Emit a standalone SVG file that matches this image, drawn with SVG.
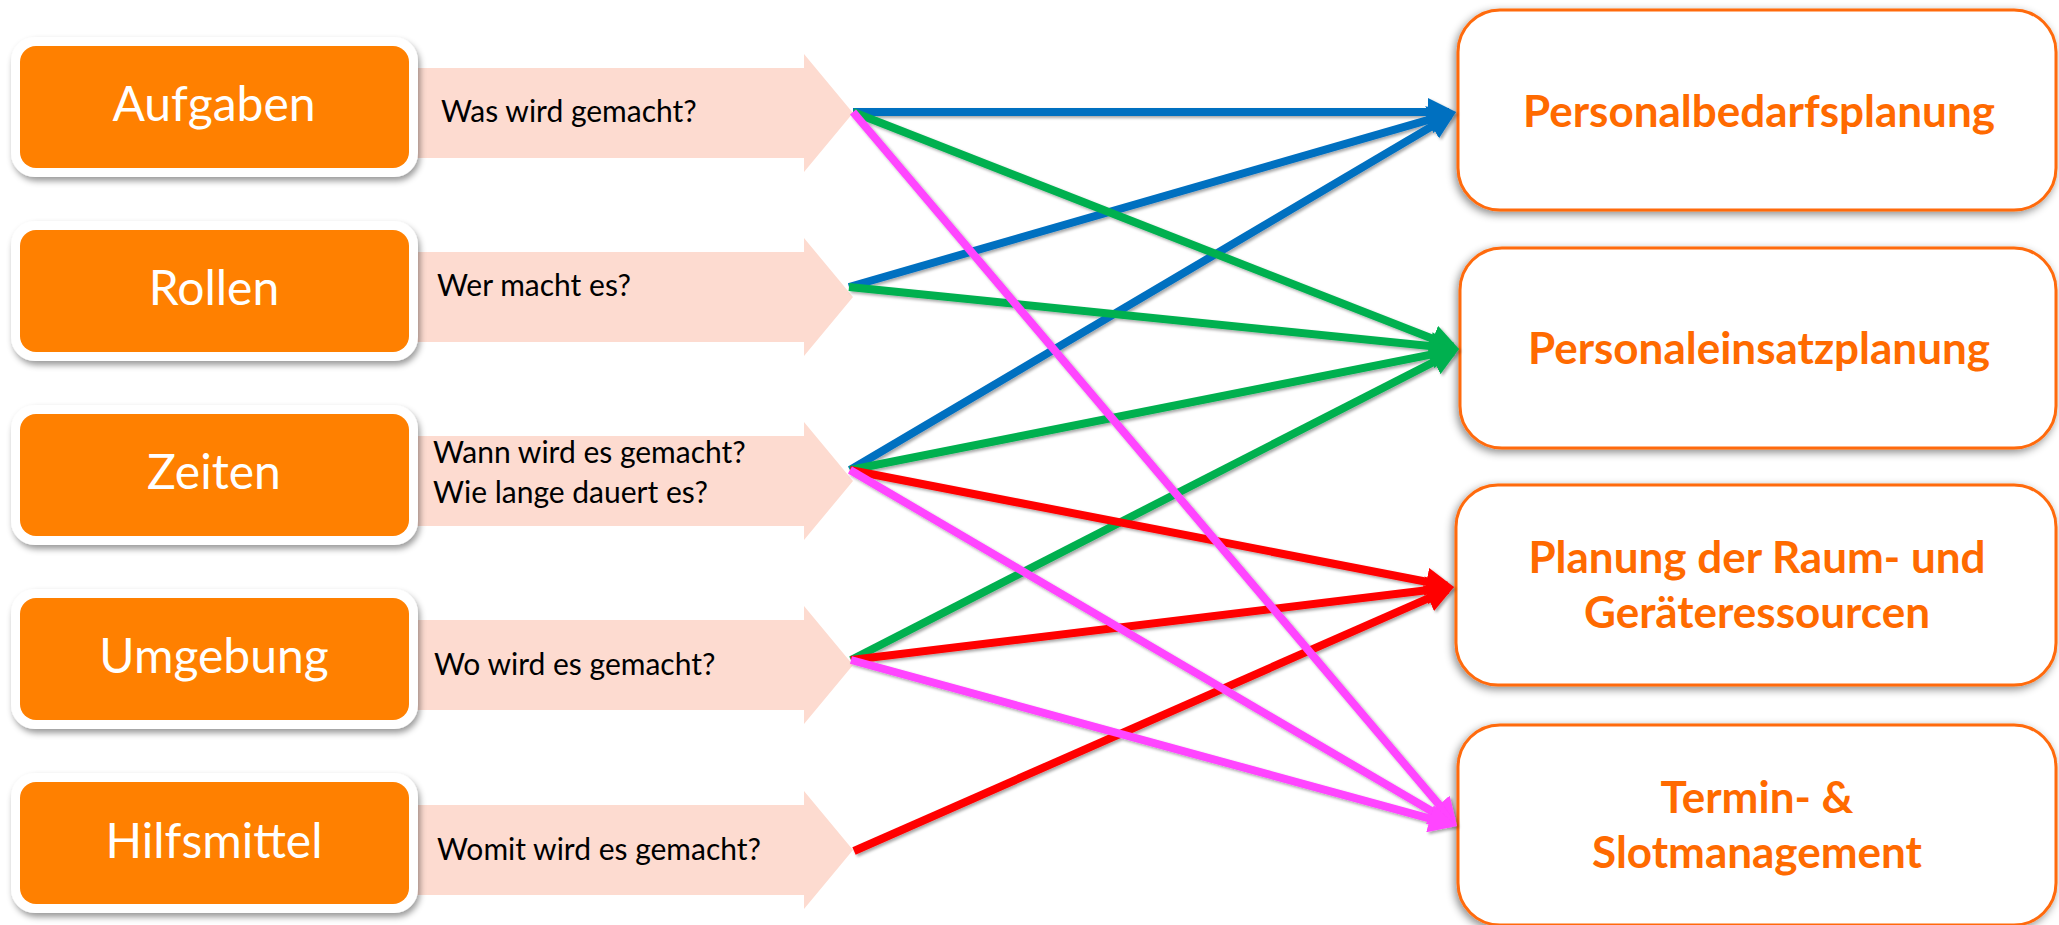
<svg xmlns="http://www.w3.org/2000/svg" width="2059" height="925" viewBox="0 0 2059 925">
<defs>
  <style>
    .src-outer{fill:#ffffff;filter:url(#shL);}
    .src{fill:#FF8000;}
    .src-t{font-family:Lato,"Open Sans",sans-serif;font-size:48px;fill:#ffffff;text-anchor:middle;}
    .band{fill:#FDDBD0;}
    .q{font-family:Lato,"Open Sans",sans-serif;font-size:30px;fill:#000000;}
    .tgt{fill:#ffffff;stroke:#FF6A0A;stroke-width:3;filter:url(#shR);}
    .tgt-t{font-family:Lato,"Open Sans",sans-serif;font-weight:bold;font-size:44px;fill:#FF6A00;text-anchor:middle;}
    .c{fill:none;stroke-width:8;stroke-linecap:butt;}
    .blue{stroke:#0070C0;marker-end:url(#aB);}
    .green{stroke:#00B050;marker-end:url(#aG);}
    .red{stroke:#FF0000;marker-end:url(#aR);}
    .mag{stroke:#FF44FF;marker-end:url(#aM);}
  </style>
  <filter id="shL" x="-10%" y="-20%" width="120%" height="150%">
    <feDropShadow dx="2" dy="4" stdDeviation="3" flood-color="#000" flood-opacity="0.4"/>
  </filter>
  <filter id="shR" x="-10%" y="-20%" width="120%" height="150%">
    <feDropShadow dx="-2" dy="3" stdDeviation="4" flood-color="#000" flood-opacity="0.45"/>
  </filter>
  <filter id="shC" x="-5%" y="-5%" width="110%" height="110%">
    <feDropShadow dx="2" dy="2" stdDeviation="1.5" flood-color="#000" flood-opacity="0.35"/>
  </filter>
  <marker id="aB" viewBox="0 0 10 10" refX="7.5" refY="5" markerWidth="3.5" markerHeight="3.5" markerUnits="strokeWidth" orient="auto"><path d="M0,0 L10,5 L0,10 z" fill="#0070C0"/></marker>
  <marker id="aG" viewBox="0 0 10 10" refX="7.5" refY="5" markerWidth="3.5" markerHeight="3.5" markerUnits="strokeWidth" orient="auto"><path d="M0,0 L10,5 L0,10 z" fill="#00B050"/></marker>
  <marker id="aR" viewBox="0 0 10 10" refX="7.5" refY="5" markerWidth="3.5" markerHeight="3.5" markerUnits="strokeWidth" orient="auto"><path d="M0,0 L10,5 L0,10 z" fill="#FF0000"/></marker>
  <marker id="aM" viewBox="0 0 10 10" refX="7.5" refY="5" markerWidth="3.5" markerHeight="3.5" markerUnits="strokeWidth" orient="auto"><path d="M0,0 L10,5 L0,10 z" fill="#FF44FF"/></marker>
</defs>
<rect x="0" y="0" width="2059" height="925" fill="#ffffff"/>

<g id="aufgaben">
  <polygon class="band" points="410,68 804,68 804,54 853,113 804,172 804,158 410,158"/>
  <rect class="src-outer" x="11" y="37" width="407" height="140" rx="24"/>
  <rect class="src" x="20" y="46" width="389" height="122" rx="16"/>
  <text class="src-t" x="214" y="121">Aufgaben</text>
  <text class="q" x="441" y="122">Was wird gemacht?</text>
</g>
<g id="rollen">
  <polygon class="band" points="410,252 804,252 804,238 853,297 804,356 804,342 410,342"/>
  <rect class="src-outer" x="11" y="221" width="407" height="140" rx="24"/>
  <rect class="src" x="20" y="230" width="389" height="122" rx="16"/>
  <text class="src-t" x="214" y="305">Rollen</text>
  <text class="q" x="437" y="296">Wer macht es?</text>
</g>
<g id="zeiten">
  <polygon class="band" points="410,436 804,436 804,422 853,481 804,540 804,526 410,526"/>
  <rect class="src-outer" x="11" y="405" width="407" height="140" rx="24"/>
  <rect class="src" x="20" y="414" width="389" height="122" rx="16"/>
  <text class="src-t" x="214" y="489">Zeiten</text>
  <text class="q" x="433" y="463">Wann wird es gemacht?</text>
  <text class="q" x="433" y="503">Wie lange dauert es?</text>
</g>
<g id="umgebung">
  <polygon class="band" points="410,620 804,620 804,606 853,665 804,724 804,710 410,710"/>
  <rect class="src-outer" x="11" y="589" width="407" height="140" rx="24"/>
  <rect class="src" x="20" y="598" width="389" height="122" rx="16"/>
  <text class="src-t" x="214" y="673">Umgebung</text>
  <text class="q" x="434" y="675">Wo wird es gemacht?</text>
</g>
<g id="hilfsmittel">
  <polygon class="band" points="410,805 804,805 804,791 853,850 804,909 804,895 410,895"/>
  <rect class="src-outer" x="11" y="773" width="407" height="140" rx="24"/>
  <rect class="src" x="20" y="782" width="389" height="122" rx="16"/>
  <text class="src-t" x="214" y="858">Hilfsmittel</text>
  <text class="q" x="437" y="860">Womit wird es gemacht?</text>
</g>

<g id="personalbedarfsplanung">
  <rect class="tgt" x="1458" y="10" width="598" height="200" rx="42"/>
  <text class="tgt-t" x="1759" y="127">Personalbedarfsplanung</text>
</g>
<g id="personaleinsatzplanung">
  <rect class="tgt" x="1460" y="248" width="596" height="200" rx="42"/>
  <text class="tgt-t" x="1759" y="364">Personaleinsatzplanung</text>
</g>
<g id="raumplanung">
  <rect class="tgt" x="1456" y="485" width="600" height="200" rx="42"/>
  <text class="tgt-t" x="1757" y="573">Planung der Raum- und</text>
  <text class="tgt-t" x="1757" y="628">Geräteressourcen</text>
</g>
<g id="terminmanagement">
  <rect class="tgt" x="1458" y="725" width="598" height="200" rx="42"/>
  <text class="tgt-t" x="1757" y="813">Termin- &amp;</text>
  <text class="tgt-t" x="1757" y="868">Slotmanagement</text>
</g>

<g id="connectors" filter="url(#shC)">
  <line class="c blue" x1="853" y1="112" x2="1449" y2="112"/>
  <line class="c blue" x1="849" y1="287" x2="1449.3" y2="113.9"/>
  <line class="c blue" x1="850" y1="470" x2="1450" y2="115.6"/>
  <line class="c green" x1="853" y1="112" x2="1452.5" y2="346.5"/>
  <line class="c green" x1="849" y1="287" x2="1452" y2="348.3"/>
  <line class="c green" x1="850" y1="470" x2="1452.1" y2="350.4"/>
  <line class="c green" x1="851" y1="660" x2="1452.8" y2="352.2"/>
  <line class="c red" x1="850" y1="470" x2="1447.1" y2="585.7"/>
  <line class="c red" x1="851" y1="660" x2="1447" y2="587.8"/>
  <line class="c red" x1="854" y1="851" x2="1447.6" y2="589.8"/>
  <line class="c mag" x1="853" y1="112" x2="1452.5" y2="820.7"/>
  <line class="c mag" x1="850" y1="470" x2="1451" y2="822.5"/>
  <line class="c mag" x1="851" y1="660" x2="1450.2" y2="824.2"/>
</g>
</svg>
